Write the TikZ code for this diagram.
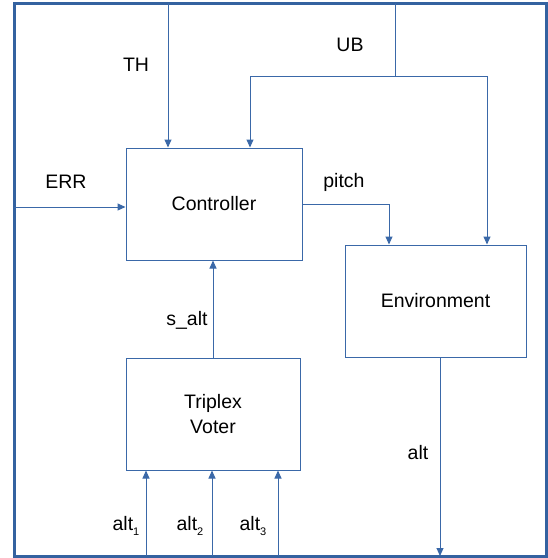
\documentclass[tikz,border=0pt]{standalone}
\usepackage{fontspec}
\setmainfont{Liberation Sans}
\usetikzlibrary{arrows.meta}
\definecolor{lineblue}{RGB}{58,104,168}
\definecolor{frameblue}{RGB}{52,98,160}
\newcommand{\mysub}[1]{\raisebox{-0.45ex}{\fontsize{11}{11}\selectfont #1}}
\tikzset{
  blk/.style={draw=lineblue, line width=1pt, rectangle, inner sep=0pt, align=center, font=\fontsize{19.5}{24.5}\selectfont},
  conn/.style={draw=lineblue, line width=1pt, -{Triangle[length=8pt,width=7pt]}},
  wire/.style={draw=lineblue, line width=1pt},
  lbl/.style={font=\fontsize{19.5}{23}\selectfont, inner sep=0pt}
}
\begin{document}
\begin{tikzpicture}[x=1pt,y=-1pt]
\useasboundingbox (0,0) rectangle (548,558);
\draw[frameblue, line width=3pt] (14,3) rectangle (546,556);
% boxes
\node[blk, minimum width=176pt, minimum height=112pt] (ctrl) at (214,204) {Controller};
\node[blk, minimum width=181pt, minimum height=112pt] (env) at (435.5,301) {Environment};
\node[blk, minimum width=174pt, minimum height=112pt] (vote) at (213,414) {Triplex\\Voter};
% free ends
\coordinate (thtop) at (168,3);
\coordinate (ubtop) at (395,3);
\coordinate (ubj) at (395,76);
\coordinate (ubl) at (250,76);
\coordinate (ubr) at (487,76);
\coordinate (errin) at (14,207);
\coordinate (pitchc) at (389,204);
\coordinate (altout) at (440,556);
\coordinate (a1) at (146,556);
\coordinate (a2) at (212,556);
\coordinate (a3) at (278,556);
% connectors
\draw[conn] (thtop) -- (thtop |- ctrl.north);
\draw[wire] (ubtop) -- (ubj);
\draw[wire] (ubl) -- (ubr);
\draw[conn] (ubl) -- (ubl |- ctrl.north);
\draw[conn] (ubr) -- (ubr |- env.north);
\draw[conn] (errin) -- (ctrl.west |- errin);
\draw[conn] (ctrl.east |- pitchc) -- (pitchc) -- (pitchc |- env.north);
\draw[conn] (vote.north) -- (vote.north |- ctrl.south);
\draw[conn] (env.south -| altout) -- (altout);
\draw[conn] (a1) -- (a1 |- vote.south);
\draw[conn] (a2) -- (a2 |- vote.south);
\draw[conn] (a3) -- (a3 |- vote.south);
% labels
\node[lbl] (lth) at (136,65) {TH};
\node[lbl] (lub) at (350,45) {UB};
\node[lbl] (lerr) at (66,182) {ERR};
\node[lbl] (lpitch) at (344,182) {pitch};
\node[lbl] (lsalt) at (187,320) {s\_alt};
\node[lbl] (lalt) at (418,453) {alt};
\node[lbl] (la1) at (126,526) {alt\mysub{1}};
\node[lbl] (la2) at (190,526) {alt\mysub{2}};
\node[lbl] (la3) at (253,526) {alt\mysub{3}};
\end{tikzpicture}
\end{document}
